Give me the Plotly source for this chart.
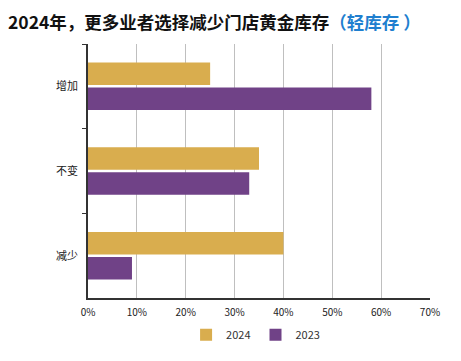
import plotly.graph_objects as go

categories = ["增加", "不变", "减少"]
values_2024 = [0.25, 0.35, 0.40]
values_2023 = [0.58, 0.33, 0.09]
series_names = ["2024", "2023"]
tick_vals = [0, 0.1, 0.2, 0.3, 0.4, 0.5, 0.6, 0.7]
tick_text = ["0%", "10%", "20%", "30%", "40%", "50%", "60%", "70%"]

GOLD = "#D9AD4E"
PURPLE = "#704287"
FONT = "Noto Sans CJK SC, Open Sans, sans-serif"

fig = go.Figure()
fig.add_trace(go.Bar(y=categories, x=values_2024, name=series_names[0],
                     orientation="h", marker=dict(color=GOLD, line_width=0)))
fig.add_trace(go.Bar(y=categories, x=values_2023, name=series_names[1],
                     orientation="h", marker=dict(color=PURPLE, line_width=0)))

fig.update_layout(
    width=461, height=361,
    margin=dict(l=80, r=39, t=36, b=71, autoexpand=False),
    paper_bgcolor="white", plot_bgcolor="white",
    barmode="group", bargap=0.41, bargroupgap=0.1,
    font=dict(family=FONT, size=10, color="#222222"),
    title=dict(
        text="<b>2024年，更多业者选择减少门店黄金库存<span style='color:#1F7FCF'>（轻库存 ）</span></b>",
        x=0.0, xanchor="left", xref="container",
        y=0.958, yanchor="middle", yref="container",
        pad=dict(l=0, t=0, b=0, r=0),
        font=dict(family=FONT, size=17.5, color="#111111"),
    ),
    xaxis=dict(
        range=[0, 0.7], tickvals=tick_vals, ticktext=tick_text,
        showgrid=True, gridcolor="#BFBFBF", gridwidth=1,
        zeroline=False, showline=True, linecolor="#333333", linewidth=1.5,
        ticks="", tickfont=dict(size=10, color="#222222"), ticklabelstandoff=4,
        automargin=False,
    ),
    yaxis=dict(
        autorange="reversed", showline=True, linecolor="#333333", linewidth=1.5,
        ticks="outside", tickson="boundaries", ticklen=4, tickcolor="#333333",
        showgrid=False, tickfont=dict(size=11, color="#222222"), ticklabelstandoff=6,
        automargin=False,
    ),
    legend=dict(
        orientation="h", x=0.49, xanchor="center", y=-0.145, yanchor="middle",
        font=dict(size=11, color="#333333"), itemwidth=30, traceorder="normal",
    ),
)

fig.write_html("out.html")
